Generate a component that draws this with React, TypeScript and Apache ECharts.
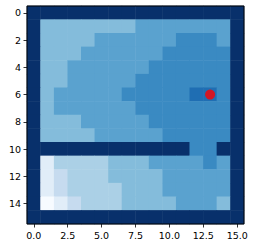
import React, { useEffect, useRef } from "react";
import * as echarts from "echarts";

// Value level of every cell (row 0 at top), 9 = wall
const gridRows = [
  "9999999999999999",
  "9444444455555559",
  "9444455555566659",
  "9444555555666669",
  "9445555556666669",
  "9445555566666669",
  "9455555666667769",
  "9455555566666669",
  "9444555556666669",
  "9444455555666669",
  "9999999999996699",
  "9133334445555659",
  "9123334444555559",
  "9123333444555559",
  "9012333444455549",
  "9999999999999999",
];

const levels = [0, 1, 2, 3, 4, 5, 6, 7, 9];
const levelColors = [
  "#f7fbff",
  "#e1edf8",
  "#c6dbef",
  "#abd0e6",
  "#84bcdb",
  "#5aa2cf",
  "#3a8ac2",
  "#1f6eb3",
  "#08306b",
];

const xTicks = [0, 2.5, 5, 7.5, 10, 12.5, 15];
const yTicks = [0, 2, 4, 6, 8, 10, 12, 14];
const agentX = [13];
const agentY = [6];

export default function App() {
  const ref = useRef<HTMLDivElement>(null);
  useEffect(() => {
    if (!ref.current) return;
    const chart = echarts.init(ref.current, null, { renderer: "svg" });
    const n = gridRows.length;
    const cats = Array.from({ length: n }, (_, i) => String(i));
    const data: number[][] = [];
    gridRows.forEach((row, r) => {
      row.split("").forEach((ch, c) => data.push([c, r, Number(ch)]));
    });
    const labelStyle = {
      color: "#000",
      fontFamily: "DejaVu Sans",
      fontSize: 9.5,
    };
    chart.setOption({
      animation: false,
      grid: {
        left: 27,
        top: 6,
        width: 217,
        height: 218,
        show: true,
        borderColor: "#000",
        borderWidth: 1,
        backgroundColor: "transparent",
        z: 10,
      },
      visualMap: {
        type: "piecewise",
        show: false,
        seriesIndex: 0,
        dimension: 2,
        pieces: levels.map((v, i) => ({ value: v, color: levelColors[i] })),
      },
      xAxis: [
        { type: "category", data: cats, show: false },
        {
          type: "value",
          min: -0.5,
          max: 15.5,
          position: "bottom",
          axisLine: { show: false },
          splitLine: { show: false },
          axisTick: {
            show: true,
            customValues: xTicks,
            length: 3.5,
            lineStyle: { color: "#000", width: 0.8 },
          },
          axisLabel: {
            customValues: xTicks,
            formatter: (v: number) => v.toFixed(1),
            margin: 6,
            ...labelStyle,
          },
        },
      ],
      yAxis: [
        { type: "category", data: cats, show: false, inverse: true },
        {
          type: "value",
          min: -0.5,
          max: 15.5,
          inverse: true,
          position: "left",
          axisLine: { show: false },
          splitLine: { show: false },
          axisTick: {
            show: true,
            customValues: yTicks,
            length: 3.5,
            lineStyle: { color: "#000", width: 0.8 },
          },
          axisLabel: {
            customValues: yTicks,
            formatter: (v: number) => String(v),
            margin: 6,
            ...labelStyle,
          },
        },
      ],
      series: [
        {
          type: "heatmap",
          xAxisIndex: 0,
          yAxisIndex: 0,
          data,
          itemStyle: { borderWidth: 0 },
        },
        {
          type: "scatter",
          xAxisIndex: 1,
          yAxisIndex: 1,
          data: agentX.map((x, i) => [x, agentY[i]]),
          symbolSize: 10,
          itemStyle: { color: "#ff0000" },
          z: 5,
        },
      ],
    });
    return () => chart.dispose();
  }, []);
  return (
    <div
      ref={ref}
      style={{ position: "fixed", left: 0, top: 0, width: 255, height: 248, background: "#fff" }}
    />
  );
}
